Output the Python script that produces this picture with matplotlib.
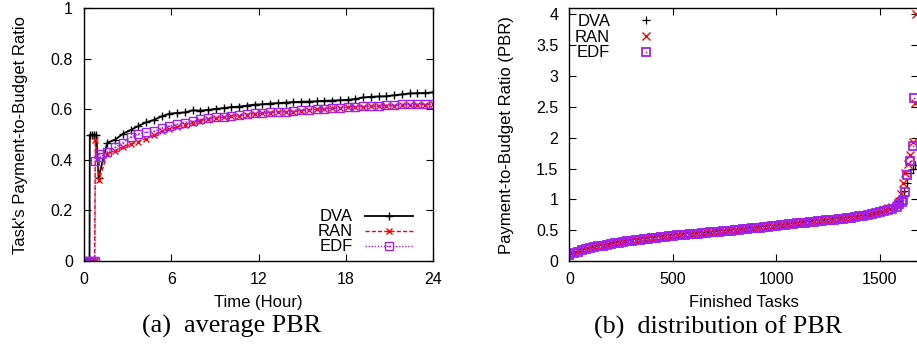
import numpy as np
import matplotlib
matplotlib.use("Agg")
import matplotlib.pyplot as plt
from matplotlib.ticker import FuncFormatter
from matplotlib.legend_handler import HandlerTuple

plt.rcParams['font.family'] = ['Liberation Sans', 'DejaVu Sans']

# ---- (a) average PBR over time ----
# start-up samples (each policy gets its first tasks at slightly different times)
t_start_dva = [0, 0.2, 0.38, 0.40, 0.55, 0.7, 0.85, 1.0]
pbr_start_dva = [0, 0, 0, 0.50, 0.50, 0.50, 0.50, 0.33]
t_start_ran = [0, 0.2, 0.4, 0.6, 0.73, 0.78, 1.05]
pbr_start_ran = [0, 0, 0, 0, 0, 0.478, 0.32]
t_start_edf = [0, 0.2, 0.4, 0.6, 0.75, 0.78, 1.0, 1.12]
pbr_start_edf = [0, 0, 0, 0, 0, 0.396, 0.425, 0.41]

# regular samples (hours)
hours = [1.6, 2.13, 2.67, 3.2, 3.73, 4.27, 4.8, 5.33, 5.87, 6.4, 6.93, 7.47,
         8.0, 8.53, 9.07, 9.6, 10.13, 10.67, 11.2, 11.73, 12.27, 12.8, 13.33,
         13.87, 14.4, 14.93, 15.47, 16.0, 16.53, 17.07, 17.6, 18.13, 18.67,
         19.2, 19.73, 20.27, 20.8, 21.33, 21.87, 22.4, 22.93, 23.47, 24.0]
avg_dva = [0.468, 0.480, 0.503, 0.518, 0.534, 0.549, 0.558, 0.572, 0.583, 0.586,
           0.588, 0.596, 0.595, 0.598, 0.602, 0.605, 0.609, 0.611, 0.615, 0.619,
           0.620, 0.623, 0.625, 0.627, 0.629, 0.630, 0.631, 0.632, 0.634, 0.635,
           0.636, 0.638, 0.641, 0.647, 0.650, 0.651, 0.652, 0.656, 0.659, 0.663,
           0.664, 0.665, 0.667]
avg_ran = [0.424, 0.437, 0.450, 0.462, 0.472, 0.484, 0.497, 0.513, 0.523, 0.531,
           0.539, 0.546, 0.555, 0.561, 0.565, 0.568, 0.572, 0.575, 0.579, 0.582,
           0.584, 0.587, 0.589, 0.590, 0.591, 0.595, 0.598, 0.600, 0.602, 0.604,
           0.606, 0.609, 0.610, 0.611, 0.612, 0.613, 0.614, 0.615, 0.617, 0.618,
           0.619, 0.619, 0.620]
avg_edf = [0.433, 0.450, 0.468, 0.490, 0.503, 0.510, 0.513, 0.526, 0.534, 0.541,
           0.548, 0.553, 0.560, 0.566, 0.568, 0.571, 0.575, 0.579, 0.583, 0.584,
           0.586, 0.590, 0.591, 0.591, 0.593, 0.597, 0.598, 0.600, 0.603, 0.604,
           0.607, 0.609, 0.610, 0.612, 0.613, 0.615, 0.617, 0.618, 0.620, 0.621,
           0.621, 0.621, 0.621]

# ---- (b) sorted PBR of finished tasks, every 20th task ----
rank = list(range(0, 1600, 20))
sorted_dva = [0.110, 0.145, 0.170, 0.192, 0.212, 0.230, 0.243, 0.256, 0.268, 0.282,
              0.295, 0.306, 0.317, 0.328, 0.339, 0.350, 0.358, 0.366, 0.374, 0.382,
              0.390, 0.398, 0.406, 0.414, 0.422, 0.430, 0.436, 0.442, 0.448, 0.454,
              0.460, 0.466, 0.472, 0.478, 0.484, 0.490, 0.496, 0.502, 0.508, 0.514,
              0.520, 0.527, 0.534, 0.541, 0.548, 0.555, 0.562, 0.569, 0.576, 0.583,
              0.590, 0.598, 0.606, 0.614, 0.622, 0.630, 0.637, 0.644, 0.651, 0.658,
              0.665, 0.672, 0.679, 0.686, 0.693, 0.700, 0.708, 0.716, 0.724, 0.733,
              0.743, 0.753, 0.764, 0.776, 0.789, 0.804, 0.819, 0.836, 0.856, 0.885]
sorted_ran = [0.100, 0.135, 0.160, 0.182, 0.202, 0.220, 0.233, 0.246, 0.258, 0.272,
              0.285, 0.296, 0.307, 0.318, 0.329, 0.340, 0.348, 0.356, 0.364, 0.372,
              0.380, 0.388, 0.396, 0.404, 0.412, 0.420, 0.426, 0.432, 0.438, 0.444,
              0.450, 0.456, 0.462, 0.468, 0.474, 0.480, 0.486, 0.492, 0.498, 0.504,
              0.510, 0.517, 0.524, 0.531, 0.538, 0.545, 0.552, 0.559, 0.566, 0.573,
              0.580, 0.588, 0.596, 0.604, 0.612, 0.620, 0.627, 0.634, 0.641, 0.648,
              0.655, 0.662, 0.669, 0.676, 0.684, 0.692, 0.701, 0.710, 0.720, 0.730,
              0.742, 0.754, 0.767, 0.781, 0.796, 0.813, 0.831, 0.852, 0.876, 0.910]
sorted_edf = [0.090, 0.125, 0.150, 0.172, 0.192, 0.210, 0.223, 0.236, 0.248, 0.262,
              0.275, 0.286, 0.297, 0.308, 0.319, 0.330, 0.338, 0.346, 0.354, 0.362,
              0.370, 0.378, 0.386, 0.394, 0.402, 0.410, 0.416, 0.422, 0.428, 0.434,
              0.440, 0.446, 0.452, 0.458, 0.464, 0.470, 0.476, 0.482, 0.488, 0.494,
              0.500, 0.507, 0.514, 0.521, 0.528, 0.535, 0.542, 0.549, 0.556, 0.563,
              0.570, 0.578, 0.586, 0.594, 0.602, 0.610, 0.617, 0.624, 0.631, 0.638,
              0.645, 0.652, 0.659, 0.666, 0.673, 0.680, 0.688, 0.696, 0.705, 0.714,
              0.725, 0.736, 0.748, 0.760, 0.774, 0.790, 0.806, 0.825, 0.848, 0.880]
# the few most expensive tasks at the end
tail_rank_dva = [1585, 1600, 1615, 1629, 1645, 1658, 1668]
tail_dva = [0.98, 1.04, 1.14, 1.26, 1.42, 1.49, 1.56]
tail_rank_ran = [1590, 1600, 1609, 1621, 1634, 1645, 1658, 1669, 1675]
tail_ran = [0.97, 1.08, 1.26, 1.42, 1.58, 1.72, 1.93, 2.57, 4.0]
tail_rank_edf = [1590, 1605, 1613, 1621, 1632, 1645, 1658, 1666]
tail_edf = [0.92, 0.95, 0.99, 1.12, 1.39, 1.62, 1.87, 2.65]

PURPLE = '#a020f0'
fs = 11.5
lfs = 12
gfmt = FuncFormatter(lambda v, p: '%g' % v)

fig = plt.figure(figsize=(9.17, 3.6), dpi=100)
ax1 = fig.add_axes([0.0916, 0.275, 0.3806, 0.702])
ax2 = fig.add_axes([0.621, 0.275, 0.3806, 0.702])

for ax in (ax1, ax2):
    ax.tick_params(direction='in', length=5, width=0.8, top=True, right=True,
                   labelsize=fs, pad=8)
    for s in ax.spines.values():
        s.set_linewidth(1.0)
    ax.xaxis.set_major_formatter(gfmt)
    ax.yaxis.set_major_formatter(gfmt)

# (a)
l1, = ax1.plot(t_start_dva + hours, pbr_start_dva + avg_dva, color='black', lw=1.3,
               marker='+', ms=6, mew=1.0, label='DVA')
l2, = ax1.plot(t_start_ran + hours, pbr_start_ran + avg_ran, color='red', lw=1.0,
               ls=(0, (3, 1.5)), marker='x', ms=5, mew=1.0, label='RAN')
l3, = ax1.plot(t_start_edf + hours, pbr_start_edf + avg_edf, color=PURPLE, lw=1.0,
               ls=(0, (1, 1.2)), marker='s', ms=5.5, mew=1.0, mfc='none', label='EDF')
d3, = ax1.plot(t_start_edf + hours, pbr_start_edf + avg_edf, ls='none', marker='s',
               ms=1.2, mew=0, color=PURPLE)
ax1.set_xlim(0, 24)
ax1.set_ylim(0, 1)
ax1.set_xticks([0, 6, 12, 18, 24])
ax1.set_yticks([0, 0.2, 0.4, 0.6, 0.8, 1])
ax1.set_xlabel('Time (Hour)', fontsize=lfs, labelpad=6)
ax1.set_ylabel("Task's Payment-to-Budget Ratio", fontsize=lfs, labelpad=16)
ax1.legend([l1, l2, (l3, d3)], ['DVA', 'RAN', 'EDF'],
           handler_map={tuple: HandlerTuple(ndivide=1)},
           loc='center right', bbox_to_anchor=(0.943, 0.115), frameon=False,
           markerfirst=False, fontsize=lfs, handlelength=2.9, handletextpad=0.7,
           labelspacing=0.0, borderpad=0, borderaxespad=0)

# (b)
p1, = ax2.plot(rank + tail_rank_dva, sorted_dva + tail_dva, ls='none', color='black',
               marker='+', ms=5.5, mew=0.9)
p2, = ax2.plot(rank + tail_rank_ran, sorted_ran + tail_ran, ls='none', color='red',
               marker='x', ms=5.2, mew=1.0)
p3, = ax2.plot(rank + tail_rank_edf, sorted_edf + tail_edf, ls='none', color=PURPLE,
               marker='s', ms=6, mew=1.3, mfc='none')
q3, = ax2.plot(rank + tail_rank_edf, sorted_edf + tail_edf, ls='none', color=PURPLE,
               marker='s', ms=1.2, mew=0)
ax2.set_xlim(0, 1686)
ax2.set_ylim(0, 4.1)
ax2.set_xticks([0, 500, 1000, 1500])
ax2.set_yticks([0, 0.5, 1, 1.5, 2, 2.5, 3, 3.5, 4])
ax2.set_xlabel('Finished Tasks', fontsize=lfs, labelpad=6)
ax2.set_ylabel('Payment-to-Budget Ratio (PBR)', fontsize=lfs, labelpad=16)
ax2.legend([p1, p2, (p3, q3)], ['DVA', 'RAN', 'EDF'],
           handler_map={tuple: HandlerTuple(ndivide=1)},
           loc='center left', bbox_to_anchor=(0.016, 0.886), frameon=False,
           markerfirst=False, fontsize=lfs, handlelength=2.9, handletextpad=0.7,
           labelspacing=0.05, borderpad=0, borderaxespad=0)

fig.text(0.252, 0.092, '(a)  average PBR', family='Liberation Serif', fontsize=18.8,
         ha='center', va='center')
fig.text(0.783, 0.092, '(b)  distribution of PBR', family='Liberation Serif',
         fontsize=18.8, ha='center', va='center')

fig.savefig('out.png', dpi=100)
